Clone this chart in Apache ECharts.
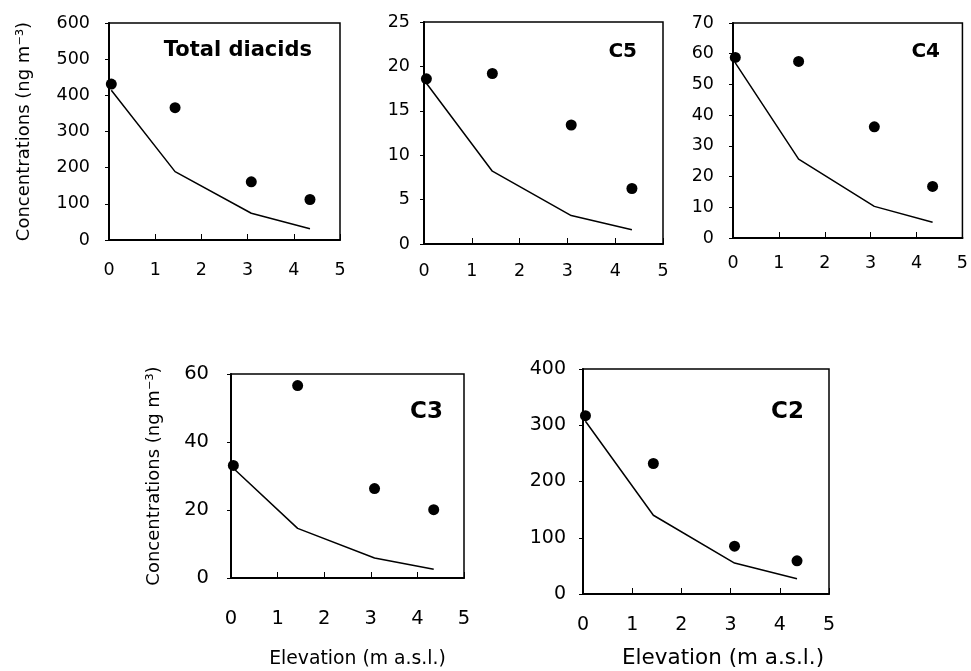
<!DOCTYPE html>
<html>
<head>
<meta charset="utf-8">
<script src="https://cdn.jsdelivr.net/npm/echarts@6/dist/echarts.min.js"></script>
<style>html,body{margin:0;padding:0;background:#fff}#c{width:971px;height:671px}</style>
</head>
<body>
<div id="c"></div>
<script>
// Elevation (m a.s.l.) of the sampling sites
const elevation = [0.05, 1.43, 3.08, 4.35];
const xTicks = [0, 1, 2, 3, 4, 5];

const panelNames = ['Total diacids', 'C5', 'C4', 'C3', 'C2'];

// Observed concentrations (dots)
const totalObs = [431, 366, 161, 112];
const c5Obs = [18.6, 19.2, 13.4, 6.25];
const c4Obs = [58.8, 57.5, 36.2, 16.8];
const c3Obs = [33.1, 56.6, 26.3, 20.1];
const c2Obs = [317, 232, 85, 59];

// Modelled concentrations (line)
const totalModel = [414, 189, 74, 31];
const c5Model = [18.1, 8.2, 3.2, 1.6];
const c4Model = [57, 25.7, 10.3, 5.1];
const c3Model = [32.3, 14.6, 5.9, 2.6];
const c2Model = [307, 140, 55, 27];

// y-axis ranges (max, interval)
const yMax = [600, 25, 70, 60, 400];
const yInterval = [100, 5, 10, 20, 100];

const obs = [totalObs, c5Obs, c4Obs, c3Obs, c2Obs];
const model = [totalModel, c5Model, c4Model, c3Model, c2Model];

const FONT = 'DejaVu Sans';
const yName = 'Concentrations (ng m\u207B\u00B3)';
const xName = 'Elevation (m a.s.l.)';

// layout per panel
const layout = [
  {grid:{left:109, top:23, width:231, height:217}, fs:17.5, yMargin:19, xMargin:21, yName:true, yNameGap:76, xName:false,
   title:{right:659, top:40, fs:21}},
  {grid:{left:424, top:22, width:239, height:222}, fs:17.5, yMargin:14, xMargin:18, yName:false, xName:false,
   title:{right:334, top:42, fs:20}},
  {grid:{left:733, top:23, width:231, height:215}, fs:17.5, yMargin:19, xMargin:16, yName:false, xName:false,
   title:{right:31, top:42, fs:20}},
  {grid:{left:231, top:374, width:233, height:204}, fs:19.5, yMargin:22, xMargin:31, yName:true, yNameGap:68, xName:true, xNameGap:72, xNameFs:18.8, xNamePad:[0,0,0,20],
   title:{right:528, top:401, fs:23}},
  {grid:{left:583, top:369, width:246, height:225}, fs:19, yMargin:17, xMargin:22, yName:false, xName:true, xNameGap:53, xNameFs:21.5, xNamePad:[0,0,0,34],
   title:{right:167, top:401, fs:23}}
];

const grids = [], xAxes = [], yAxes = [], series = [], titles = [];
layout.forEach((L, i) => {
  grids.push(Object.assign({show:true, borderColor:'#000', borderWidth:1.5, backgroundColor:'transparent'}, L.grid));
  xAxes.push({
    type:'value', gridIndex:i, min:xTicks[0], max:xTicks[xTicks.length-1], interval:1,
    splitLine:{show:false},
    axisLine:{show:true, onZero:false, lineStyle:{color:'#000', width:2}},
    axisTick:{show:true, inside:true, length:6, lineStyle:{color:'#000', width:1}},
    axisLabel:{color:'#000', fontFamily:FONT, fontSize:L.fs, margin:L.xMargin},
    name: L.xName ? xName : '', nameLocation:'middle', nameGap:L.xNameGap || 0,
    nameTextStyle:{color:'#000', fontFamily:FONT, fontSize:L.xNameFs || 18, padding:L.xNamePad || 0}
  });
  yAxes.push({
    type:'value', gridIndex:i, min:0, max:yMax[i], interval:yInterval[i],
    splitLine:{show:false},
    axisLine:{show:true, onZero:false, lineStyle:{color:'#000', width:2}},
    axisTick:{show:true, inside:false, length:4, lineStyle:{color:'#000', width:1}},
    axisLabel:{color:'#000', fontFamily:FONT, fontSize:L.fs, margin:L.yMargin},
    name: L.yName ? yName : '', nameLocation:'middle', nameGap:L.yNameGap || 0, nameRotate:90,
    nameTextStyle:{color:'#000', fontFamily:FONT, fontSize:18}
  });
  series.push({
    type:'line', xAxisIndex:i, yAxisIndex:i, showSymbol:false, symbol:'none', z:2,
    lineStyle:{color:'#000', width:1.5}, silent:true,
    data: elevation.map((x, k) => [x, model[i][k]])
  });
  series.push({
    type:'scatter', xAxisIndex:i, yAxisIndex:i, symbol:'circle', symbolSize:11, z:3,
    itemStyle:{color:'#000', opacity:1}, silent:true,
    data: elevation.map((x, k) => [x, obs[i][k]])
  });
  titles.push({
    text: panelNames[i], right:L.title.right, top:L.title.top, padding:0,
    textStyle:{color:'#000', fontFamily:FONT, fontWeight:'bold', fontSize:L.title.fs}
  });
});

const chart = echarts.init(document.getElementById('c'), null, {renderer:'canvas'});
chart.setOption({
  backgroundColor:'#fff',
  animation:false,
  title: titles,
  grid: grids,
  xAxis: xAxes,
  yAxis: yAxes,
  series: series
});
</script>
</body>
</html>
